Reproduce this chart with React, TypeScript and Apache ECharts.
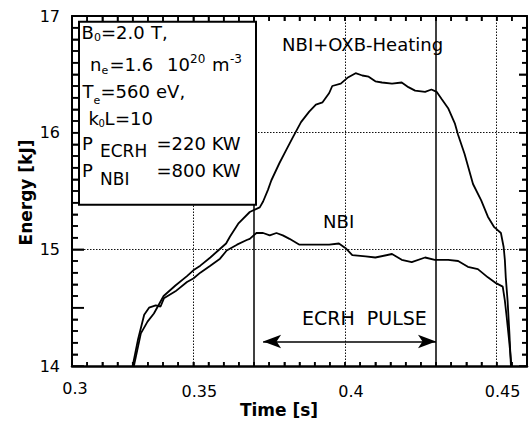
import React, { useEffect, useRef } from 'react';
import * as echarts from 'echarts';

// ---- data ----
const timeOXB = [0.3304, 0.3327, 0.3349, 0.3370, 0.3402, 0.3441, 0.3479, 0.3500, 0.3523, 0.3556, 0.3582, 0.3608, 0.3621, 0.3648, 0.3686, 0.3719, 0.3730, 0.3746, 0.3757, 0.3784, 0.3806, 0.3828, 0.3855, 0.3882, 0.3904, 0.3926, 0.3948, 0.3958, 0.3986, 0.4008, 0.4035, 0.4057, 0.4078, 0.4100, 0.4122, 0.4155, 0.4187, 0.4209, 0.4231, 0.4264, 0.4285, 0.4302, 0.4318, 0.4340, 0.4362, 0.4373, 0.4394, 0.4422, 0.4449, 0.4471, 0.4492, 0.4514, 0.4523, 0.4527, 0.4530, 0.4536, 0.4542, 0.4547];
const energyOXB = [14.00, 14.28, 14.38, 14.45, 14.60, 14.69, 14.77, 14.82, 14.86, 14.93, 14.99, 15.05, 15.11, 15.22, 15.32, 15.36, 15.41, 15.51, 15.59, 15.74, 15.85, 15.96, 16.09, 16.18, 16.24, 16.26, 16.34, 16.40, 16.42, 16.47, 16.51, 16.49, 16.48, 16.44, 16.43, 16.42, 16.43, 16.39, 16.36, 16.35, 16.37, 16.35, 16.29, 16.21, 16.08, 15.98, 15.82, 15.56, 15.42, 15.28, 15.19, 15.14, 15.02, 14.91, 14.76, 14.56, 14.28, 14.00];

const timeNBI = [0.3300, 0.3317, 0.3338, 0.3354, 0.3376, 0.3392, 0.3403, 0.3441, 0.3479, 0.3500, 0.3523, 0.3556, 0.3588, 0.3610, 0.3644, 0.3676, 0.3686, 0.3708, 0.3730, 0.3752, 0.3774, 0.3795, 0.3817, 0.3850, 0.3904, 0.3948, 0.3980, 0.4002, 0.4024, 0.4068, 0.4100, 0.4155, 0.4187, 0.4220, 0.4264, 0.4296, 0.4340, 0.4373, 0.4405, 0.4438, 0.4471, 0.4498, 0.4520, 0.4527, 0.4533, 0.4541, 0.4549];
const energyNBI = [14.00, 14.22, 14.44, 14.50, 14.52, 14.51, 14.58, 14.64, 14.72, 14.75, 14.80, 14.86, 14.92, 14.99, 15.04, 15.08, 15.09, 15.14, 15.14, 15.12, 15.14, 15.12, 15.09, 15.04, 15.04, 15.04, 15.05, 15.01, 14.95, 14.94, 14.93, 14.96, 14.91, 14.89, 14.93, 14.91, 14.91, 14.90, 14.85, 14.83, 14.76, 14.71, 14.68, 14.56, 14.42, 14.22, 14.00];

const xMin = 0.31;
const xMax = 0.46;
const yMin = 14;
const yMax = 17;
const xLabelValues = [0.35, 0.4, 0.45];
const xLabelTexts = ['0.35', '0.4', '0.45'];
const xFirstLabel = '0.3'; // printed at the left end of the axis in the reference
const yLabelValues = [14, 15, 16, 17];
const yLabelTexts = ['14', '15', '16', '17'];
const xGridValues = [0.35, 0.4, 0.45];
const yGridValues = [15, 16];
const ecrhStart = 0.373;
const ecrhEnd = 0.43;
const arrowEnergy = 14.21;

const annotations = [
  { text: 'NBI+OXB-Heating', t: 0.4058, e: 16.76, size: 18 },
  { text: 'NBI', t: 0.3979, e: 15.237, size: 18 },
  { text: 'ECRH  PULSE', t: 0.4064, e: 14.41, size: 19 },
];

const FONT = 'DejaVu Sans';

// parameter box pieces: text, left x, center y, font size
const boxPieces: [string, number, number, number][] = [
  ['B', 81.5, 32.5, 18], ['0', 94, 37, 11], ['=2.0', 101, 32.5, 18], ['T,', 151, 32.5, 18],
  ['n', 90, 64, 18], ['e', 101.5, 70, 11], ['=1.6', 109.5, 64, 18], ['10', 167, 64, 18], ['20', 190, 59, 12], ['m', 212, 64, 18], ['-3', 230, 58.5, 12],
  ['T', 82.5, 91, 18], ['e', 93.5, 100, 11], ['=560', 100.5, 91, 18], ['eV,', 156, 91, 18],
  ['k', 88.5, 118, 18], ['0', 98.5, 123, 10], ['L', 104.5, 118, 18], ['=10', 115, 118, 18],
  ['P', 82, 143.5, 18], ['ECRH', 100, 151, 17], ['=220 KW', 156.5, 143.5, 18],
  ['P', 82, 170, 18], ['NBI', 100, 179, 17], ['=800 KW', 156.5, 170, 18],
];

const zip = (a: number[], b: number[]) => a.map((v, i) => [v, b[i]]);
const fmt = (vals: number[], texts: string[]) => (v: number) => {
  const i = vals.findIndex((x) => Math.abs(x - v) < 1e-6);
  return i >= 0 ? texts[i] : '';
};

// tick marks: side (0 bottom, 1 top, 2 left, 3 right), value, length in px
type Tick = [number, number, number];
const xTickStep = 0.005;
const yTickStep = 0.1;
const ticks: Tick[] = [];
for (let i = 1; i < 30; i++) {
  const v = xMin + i * xTickStep;
  ticks.push([0, v, 4]);
  ticks.push([1, v, 5]);
}
for (let i = 1; i < 30; i++) {
  const v = yMin + i * yTickStep;
  const major = i % 5 === 0;
  ticks.push([2, v, major ? 12 : 6]);
  ticks.push([3, v, major ? 8 : 5]);
}

export default function App() {
  const ref = useRef<HTMLDivElement>(null);
  useEffect(() => {
    if (!ref.current) return;
    const chart = echarts.init(ref.current, null, { renderer: 'svg' });
    const axisX = (pos: 'bottom' | 'top') => ({
      type: 'value', min: xMin, max: xMax, interval: xTickStep, position: pos,
      axisLine: { show: true, onZero: false, lineStyle: { color: '#000', width: pos === 'bottom' ? 2.5 : 2 } },
      axisTick: { show: true, inside: true, length: pos === 'bottom' ? 4 : 5, lineStyle: { color: '#000', width: 1.5 } },
      axisLabel: {
        show: pos === 'bottom', margin: 17, color: '#000', fontFamily: FONT, fontSize: 16,
        padding: [0, 0, 0, 12], formatter: fmt(xLabelValues, xLabelTexts),
      },
      splitLine: { show: false },
    });
    const axisY = (pos: 'left' | 'right') => ({
      type: 'value', min: yMin, max: yMax, interval: 0.5, position: pos,
      axisLine: { show: true, onZero: false, lineStyle: { color: '#000', width: 2 } },
      axisTick: { show: true, inside: true, length: pos === 'left' ? 12 : 8, lineStyle: { color: '#000', width: 1.5 } },
      minorTick: { show: true, splitNumber: 5, length: pos === 'left' ? 6 : 5, lineStyle: { color: '#000', width: 1.5 } },
      axisLabel: {
        show: pos === 'left', margin: 12, color: '#000', fontFamily: FONT, fontSize: 16,
        padding: [0, 0, 14, 0], formatter: fmt(yLabelValues, yLabelTexts),
      },
      splitLine: { show: false },
      minorSplitLine: { show: false },
    });
    const curve = (name: string, data: number[][]) => ({
      name, type: 'line', data, showSymbol: false, symbol: 'none',
      lineStyle: { color: '#000', width: 1.8 }, z: 3,
    });
    chart.setOption({
      animation: false,
      backgroundColor: '#fff',
      grid: { left: 72, top: 16, width: 459, height: 350, show: false },
      xAxis: [axisX('bottom'), axisX('top')],
      yAxis: [axisY('left'), axisY('right')],
      series: [
        curve('NBI+OXB-Heating', zip(timeOXB, energyOXB)),
        curve('NBI', zip(timeNBI, energyNBI)),
        {
          type: 'line', data: [], z: 1,
          markLine: {
            silent: true, symbol: 'none', label: { show: false },
            lineStyle: { color: '#111', width: 1, type: [1.5, 1.5] },
            data: [
              ...xGridValues.map((v) => ({ xAxis: v })),
              ...yGridValues.map((v) => ({ yAxis: v })),
            ],
          },
        },
        {
          type: 'line', data: [], z: 2,
          markLine: {
            silent: true, symbol: 'none', label: { show: false },
            lineStyle: { color: '#000', width: 1.5, type: 'solid' },
            data: [{ xAxis: ecrhStart }, { xAxis: ecrhEnd }],
          },
        },
        {
          type: 'line', data: [], z: 2,
          markLine: {
            silent: true, symbol: ['arrow', 'arrow'], symbolSize: [10, 18], label: { show: false },
            lineStyle: { color: '#000', width: 1.5, type: 'solid' },
            data: [[{ coord: [ecrhStart, arrowEnergy] }, { coord: [ecrhEnd, arrowEnergy] }]],
          },
        },
      ],
    });

    const toPx = (t: number, e: number) => chart.convertToPixel({ gridIndex: 0 }, [t, e]) as number[];

    // ticks also drawn as thin filled bars (same places as the axis ticks), pointing inward
    const w = 1.5;
    const tickEls = ticks.map(([side, v, len]) => {
      let shape;
      if (side === 0) { const p = toPx(v, yMin); shape = { x: p[0] - w / 2, y: p[1] - len, width: w, height: len }; }
      else if (side === 1) { const p = toPx(v, yMax); shape = { x: p[0] - w / 2, y: p[1], width: w, height: len }; }
      else if (side === 2) { const p = toPx(xMin, v); shape = { x: p[0], y: p[1] - w / 2, width: len, height: w }; }
      else { const p = toPx(xMax, v); shape = { x: p[0] - len, y: p[1] - w / 2, width: len, height: w }; }
      return { type: 'rect', z: 60, shape, style: { fill: '#000' } };
    });

    const p0 = toPx(xMin, yMin);
    const firstLabel = {
      type: 'text', x: p0[0] + 3, y: p0[1] + 22, z: 50,
      style: { text: xFirstLabel, fill: '#000', font: `16px "${FONT}"`, textAlign: 'center', textVerticalAlign: 'middle' },
    };

    const annot = annotations.map((a) => {
      const p = toPx(a.t, a.e);
      return {
        type: 'text', x: p[0], y: p[1], z: 50,
        style: { text: a.text, fill: '#000', font: `${a.size}px "${FONT}"`, textAlign: 'center', textVerticalAlign: 'middle' },
      };
    });
    const box = [
      {
        type: 'rect', z: 100,
        shape: { x: 79, y: 21.7, width: 177, height: 183 },
        style: { fill: '#fff', stroke: '#000', lineWidth: 2 },
      },
      ...boxPieces.map(([t, x, y, s]) => ({
        type: 'text', x, y, z: 101,
        style: { text: t, fill: '#000', font: `${s}px "${FONT}"`, textAlign: 'left', textVerticalAlign: 'middle' },
      })),
    ];
    const names = [
      {
        type: 'text', x: 279, y: 410, z: 50,
        style: { text: 'Time [s]', fill: '#000', font: `bold 17px "${FONT}"`, textAlign: 'center', textVerticalAlign: 'middle' },
      },
      {
        type: 'text', x: 26, y: 192.5, z: 50, rotation: Math.PI / 2,
        style: { text: 'Energy [kJ]', fill: '#000', font: `bold 17px "${FONT}"`, textAlign: 'center', textVerticalAlign: 'middle' },
      },
    ];
    chart.setOption({ graphic: { elements: [...tickEls, firstLabel, ...annot, ...box, ...names] } });
    return () => chart.dispose();
  }, []);
  return <div ref={ref} style={{ position: 'fixed', left: 0, top: 0, width: 530, height: 426 }} />;
}
